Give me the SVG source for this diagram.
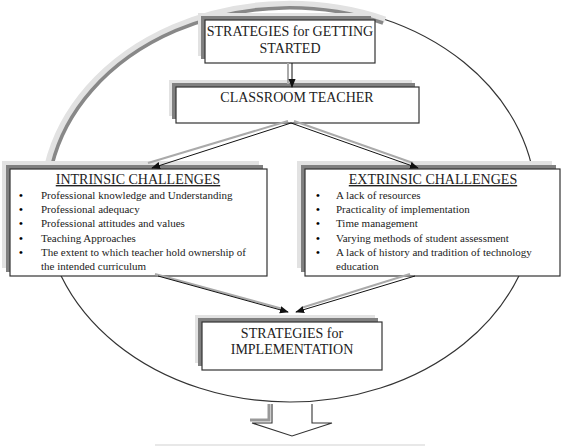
<svg xmlns="http://www.w3.org/2000/svg" width="562" height="448" viewBox="0 0 562 448" font-family="'Liberation Serif', serif">
<defs>
<marker id="ah" viewBox="0 0 10 10" refX="9" refY="5" markerWidth="9" markerHeight="9" orient="auto" markerUnits="userSpaceOnUse">
<path d="M0,1 L10,5 L0,9 Z" fill="#111"/>
</marker>
</defs>
<style>
.t,.li,.bu{font-family:'Liberation Serif',serif;fill:#222}
.box{fill:#fff;stroke:#333;stroke-width:1.2}
.sh1{fill:#e2e2e2;stroke:none}
.sh2{fill:#808080;stroke:none}
.t{font-size:14px;text-anchor:middle}
.li{font-size:11px}
.bu{font-size:11px;fill:#000;font-weight:bold}
.ln{stroke:#111;stroke-width:1;fill:none}
.lg{stroke:#aaa;stroke-width:2;fill:none}
</style>
<rect width="562" height="448" fill="#fff"/>
<g id="frame">
<ellipse cx="290" cy="203" rx="246" ry="199" fill="none" stroke="#333" stroke-width="1.2"/>
<path d="M 48 165 A 246 199 0 0 1 385 20" fill="none" stroke="#e2e2e2" stroke-width="7"/>
<path d="M 52 165 A 242 195 0 0 1 383 23" fill="none" stroke="#888" stroke-width="3.5"/>
<line x1="155" y1="445" x2="425" y2="445" stroke="#e8e8e8" stroke-width="2"/>
</g>
<g id="getting-started">
<rect class="sh1" x="198" y="13" width="170" height="43"/>
<rect class="sh2" x="201" y="16" width="170" height="43"/>
<rect class="box" x="205" y="20" width="170" height="43"/>
<text class="t" x="290" y="36">STRATEGIES for GETTING</text>
<text class="t" x="290" y="53">STARTED</text>
</g>
<g id="classroom-teacher">
<rect class="sh1" x="169" y="80" width="243" height="36"/>
<rect class="sh2" x="172" y="83" width="243" height="36"/>
<rect class="box" x="176" y="87" width="243" height="36"/>
<text class="t" x="297" y="102">CLASSROOM TEACHER</text>
</g>
<g id="intrinsic">
<rect class="sh1" x="2" y="161" width="257" height="107"/>
<rect class="sh2" x="6" y="165" width="257" height="107"/>
<rect class="box" x="10" y="169" width="257" height="107"/>
<text class="t" x="138" y="184" text-decoration="underline">INTRINSIC CHALLENGES</text>
<text class="bu" x="19" y="199">•</text><text class="li" x="41" y="199">Professional knowledge and Understanding</text>
<text class="bu" x="19" y="213">•</text><text class="li" x="41" y="213">Professional adequacy</text>
<text class="bu" x="19" y="227">•</text><text class="li" x="41" y="227">Professional attitudes and values</text>
<text class="bu" x="19" y="242">•</text><text class="li" x="41" y="242">Teaching Approaches</text>
<text class="bu" x="19" y="256">•</text><text class="li" x="41" y="256">The extent to which teacher hold ownership of</text>
<text class="li" x="41" y="270">the intended curriculum</text>
</g>
<g id="extrinsic">
<rect class="sh1" x="297" y="161" width="255" height="107"/>
<rect class="sh2" x="301" y="165" width="255" height="107"/>
<rect class="box" x="305" y="169" width="255" height="107"/>
<text class="t" x="433" y="184" text-decoration="underline">EXTRINSIC CHALLENGES</text>
<text class="bu" x="316" y="199">•</text><text class="li" x="336" y="199">A lack of resources</text>
<text class="bu" x="316" y="213">•</text><text class="li" x="336" y="213">Practicality of implementation</text>
<text class="bu" x="316" y="227">•</text><text class="li" x="336" y="227">Time management</text>
<text class="bu" x="316" y="242">•</text><text class="li" x="336" y="242">Varying methods of student assessment</text>
<text class="bu" x="316" y="256">•</text><text class="li" x="336" y="256">A lack of history and tradition of technology</text>
<text class="li" x="336" y="270">education</text>
</g>
<g id="implementation">
<rect class="sh1" x="195" y="315" width="180" height="48"/>
<rect class="sh2" x="198" y="318" width="180" height="48"/>
<rect class="box" x="202" y="322" width="180" height="48"/>
<text class="t" x="292" y="338">STRATEGIES for</text>
<text class="t" x="292" y="354">IMPLEMENTATION</text>
</g>
<g id="output-arrow">
<path d="M 269 404 L 269 420 L 250 420" fill="none" stroke="#999" stroke-width="3"/>
<path d="M 272 404 L 272 423 L 252 423 L 292 436 L 332 423 L 312 423 L 312 404" fill="#fff" stroke="#333" stroke-width="1.1"/>
</g>
<g id="connectors">
<line class="lg" x1="288" y1="63" x2="288" y2="84"/>
<line class="ln" x1="292" y1="63" x2="292" y2="87" marker-end="url(#ah)"/>
<line class="lg" x1="288" y1="121" x2="148" y2="163"/>
<line class="ln" x1="291" y1="123" x2="152" y2="168" marker-end="url(#ah)"/>
<line class="lg" x1="294" y1="121" x2="413" y2="163"/>
<line class="ln" x1="291" y1="123" x2="418" y2="168" marker-end="url(#ah)"/>
<line class="lg" x1="155" y1="274" x2="283" y2="309"/>
<line class="ln" x1="158" y1="276" x2="288" y2="312" marker-end="url(#ah)"/>
<line class="lg" x1="410" y1="274" x2="301" y2="308"/>
<line class="ln" x1="415" y1="276" x2="296" y2="312" marker-end="url(#ah)"/>
</g>
</svg>
